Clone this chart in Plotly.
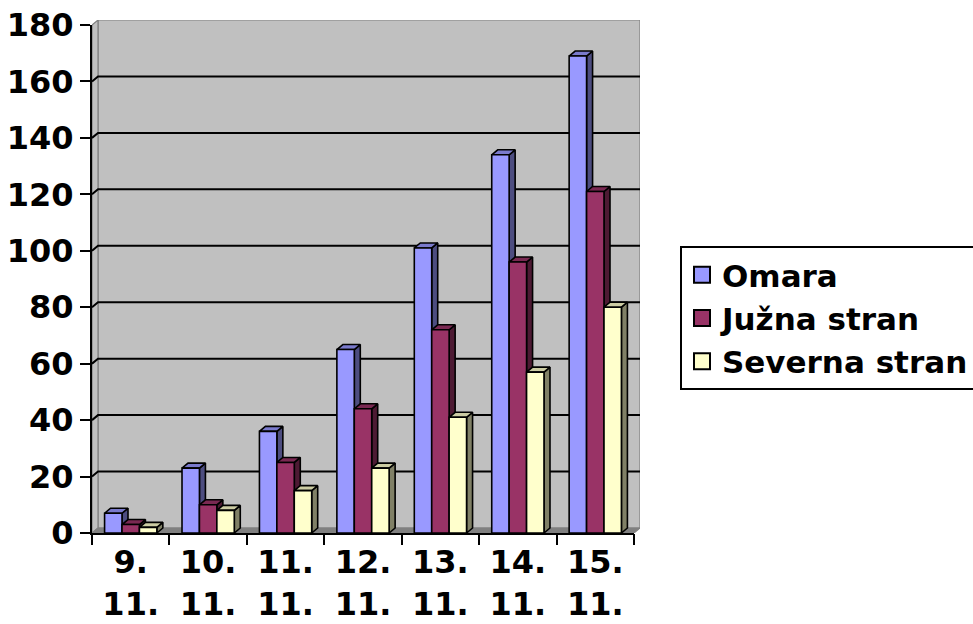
import plotly.graph_objects as go

# ---- data -------------------------------------------------------------
dates = ["9.<br>11.", "10.<br>11.", "11.<br>11.", "12.<br>11.",
         "13.<br>11.", "14.<br>11.", "15.<br>11."]
series_names = ["Omara", "Južna stran", "Severna stran"]
omara = [7, 23, 36, 65, 101, 134, 169]
juzna = [3, 10, 25, 44, 72, 96, 121]
severna = [2, 8, 15, 23, 41, 57, 80]
y_ticks = [0, 20, 40, 60, 80, 100, 120, 140, 160, 180]

series_values = [omara, juzna, severna]

# ---- styling ----------------------------------------------------------
front_colors = ["#9999FF", "#993366", "#FFFFCC"]
top_colors = ["#7A7ACC", "#7A2952", "#CCCCA3"]
side_colors = ["#4D4D80", "#4D1A33", "#808066"]
wall_color = "#C0C0C0"
floor_color = "#808080"
edge_gray = "#808080"
FONT = dict(family="DejaVu Sans", size=32, color="black", weight="bold")
LEGEND_FONT = dict(FONT, size=31)

# ---- geometry of the 3-D box (front plane in axis units) --------------
W_FIG, H_FIG = 973, 624
L, T = 92, 20                 # left / top margin
FRONT_W, FRONT_H = 542, 508   # front plane size in px
DEPTH_PX_X, DEPTH_PX_Y = 6, 5  # oblique depth offset in px
n_groups = len(dates)
y_max = y_ticks[-1]
ux = FRONT_W / n_groups       # px per x unit
uy = FRONT_H / y_max          # px per y unit
DX = DEPTH_PX_X / ux
DY = DEPTH_PX_Y / uy
FULL_W = FRONT_W + DEPTH_PX_X
FULL_H = FRONT_H + DEPTH_PX_Y
B = H_FIG - T - FULL_H
bar_w = 0.225

fig = go.Figure()


def poly(xs, ys, fill, line_color="black", line_width=1.6, text=None):
    fig.add_trace(go.Scatter(
        x=list(xs) + [xs[0]], y=list(ys) + [ys[0]],
        mode="lines", fill="toself", fillcolor=fill,
        line=dict(color=line_color, width=line_width),
        showlegend=False, hoverinfo="skip" if text is None else "text",
        text=text, hoveron="fills" if text else None,
        xaxis="x", yaxis="y",
    ))


# walls and floor
poly([DX, n_groups + DX, n_groups + DX, DX], [DY, DY, y_max + DY, y_max + DY],
     wall_color, edge_gray, 1.2)
poly([0, DX, DX, 0], [0, DY, y_max + DY, y_max], wall_color, edge_gray, 1.2)
poly([0, n_groups, n_groups + DX, DX], [0, 0, DY, DY], floor_color, edge_gray, 1.2)

# gridlines across left wall and back wall
for v in y_ticks[1:-1]:
    fig.add_trace(go.Scatter(
        x=[0, DX, n_groups + DX], y=[v, v + DY, v + DY],
        mode="lines", line=dict(color="black", width=2),
        showlegend=False, hoverinfo="skip", xaxis="x", yaxis="y",
    ))

# 3-D columns: side, top, then front face of every column, left to right
for g in range(n_groups):
    for s, vals in enumerate(series_values):
        h = vals[g]
        x0 = g + 0.5 + (s - 1.5) * bar_w
        x1 = x0 + bar_w
        poly([x1, x1 + DX, x1 + DX, x1], [0, DY, h + DY, h], side_colors[s])
        poly([x0, x1, x1 + DX, x0 + DX], [h, h, h + DY, h + DY], top_colors[s])
        label = f"{series_names[s]}: {h}"
        poly([x0, x1, x1, x0], [0, 0, h, h], front_colors[s], text=label)

# legend entries
for s, name in enumerate(series_names):
    fig.add_trace(go.Scatter(
        x=[None], y=[None], mode="markers", name=name,
        marker=dict(symbol="square", size=16, color=front_colors[s],
                    line=dict(color="black", width=2)),
        xaxis="x2", yaxis="y2",
    ))

fig.update_layout(
    width=W_FIG, height=H_FIG,
    margin=dict(l=L, r=W_FIG - L - FULL_W, t=T, b=B, autoexpand=False),
    paper_bgcolor="white", plot_bgcolor="rgba(0,0,0,0)",
    font=FONT,
    showlegend=True,
    legend=dict(
        x=(680 - L) / FULL_W, xanchor="left",
        y=(H_FIG - B - 318) / FULL_H, yanchor="middle",
        bgcolor="white", bordercolor="black", borderwidth=2,
        font=LEGEND_FONT, itemsizing="trace", tracegroupgap=0,
    ),
    # full box axes (front plane plus depth), used for the 3-D drawing
    xaxis=dict(domain=[0, 1], range=[0, n_groups + DX], anchor="y",
               showgrid=False, zeroline=False, showline=False,
               tickvals=list(range(n_groups + 1)), ticks="outside",
               ticklen=11, tickwidth=2, tickcolor="black",
               showticklabels=False, fixedrange=True, automargin=False),
    yaxis=dict(domain=[0, 1], range=[0, y_max + DY], anchor="x",
               showgrid=False, zeroline=False, showline=False,
               ticks="", showticklabels=False, fixedrange=True, automargin=False),
    # front plane axes carrying the labels
    xaxis2=dict(domain=[0, FRONT_W / FULL_W], range=[0, n_groups], anchor="y2",
                showgrid=False, zeroline=False, showline=True,
                linecolor="black", linewidth=2,
                tickvals=[g + 0.5 for g in range(n_groups)], ticktext=dates,
                ticks="", tickfont=FONT,
                fixedrange=True, automargin=False),
    yaxis2=dict(domain=[0, FRONT_H / FULL_H], range=[0, y_max], anchor="x2",
                showgrid=False, zeroline=False, showline=True,
                linecolor="black", linewidth=2,
                tickvals=y_ticks, ticks="outside", ticklen=10, tickwidth=2,
                tickcolor="black", tickfont=FONT, fixedrange=True, automargin=False),
)

fig.write_html("out.html")
